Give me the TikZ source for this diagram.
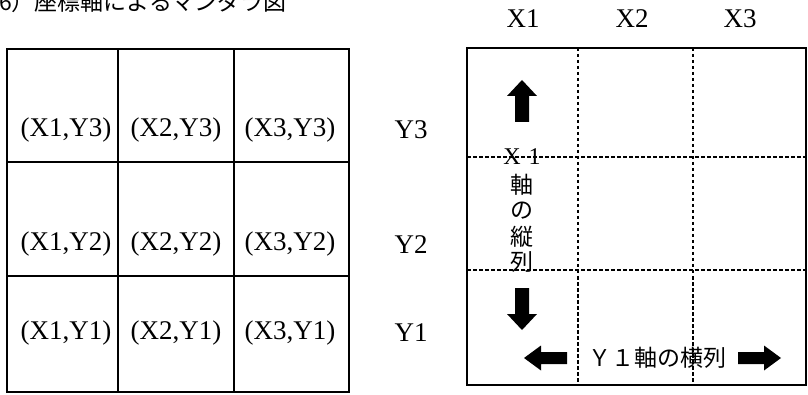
\documentclass[tikz,border=0pt]{standalone}
\usepackage{fontspec}
\setmainfont{Liberation Serif}
\newfontfamily\jp{Noto Sans CJK JP}
\begin{document}
\begin{tikzpicture}[x=1pt,y=-1pt,
  cell/.style={inner sep=0pt,font=\fontsize{27}{30}\selectfont},
  lab/.style={inner sep=0pt,font=\fontsize{27}{30}\selectfont},
  jtxt/.style={inner sep=0pt,font=\jp\fontsize{23}{24}\selectfont},
  grid/.style={line width=2pt},
  dots/.style={line width=2pt,dash pattern=on 3.5pt off 2.5pt},
  varrow/.pic={\fill (0,-7)--(26,-7)--(26,-15)--(42,0)--(26,15)--(26,7)--(0,7)--cycle;},
  harrow/.pic={\fill (0,-6)--(26,-6)--(26,-12.5)--(43,0)--(26,12.5)--(26,6)--(0,6)--cycle;}]
\clip (0,0) rectangle (808,395);
\fill[white] (0,0) rectangle (808,395);
% title (cut at top)
\node[anchor=base west,inner sep=0pt,font=\jp\fontsize{23}{24}\selectfont] (title) at (-1,11) {6）座標軸によるマンダラ図};
% left grid
\draw[grid] (7,49) rectangle (349,392);
\draw[grid] (118,49) -- (118,392);
\draw[grid] (234,49) -- (234,392);
\draw[grid] (7,162) -- (349,162);
\draw[grid] (7,276) -- (349,276);
\node[cell] (c13) at (66,130) {(X1,Y3)};
\node[cell] (c23) at (176,130) {(X2,Y3)};
\node[cell] (c33) at (290,130) {(X3,Y3)};
\node[cell] (c12) at (66,244) {(X1,Y2)};
\node[cell] (c22) at (176,244) {(X2,Y2)};
\node[cell] (c32) at (290,244) {(X3,Y2)};
\node[cell] (c11) at (66,333) {(X1,Y1)};
\node[cell] (c21) at (176,333) {(X2,Y1)};
\node[cell] (c31) at (290,333) {(X3,Y1)};
\node[lab] (y3) at (411,130) {Y3};
\node[lab] (y2) at (411,245) {Y2};
\node[lab] (y1) at (411,333) {Y1};
% right panel
\node[lab] (x1) at (523,19) {X1};
\node[lab] (x2) at (632,19) {X2};
\node[lab] (x3) at (740,19) {X3};
\draw[dots] (578,48) -- (578,385);
\draw[dots] (693,48) -- (693,385);
\draw[dots] (467,157) -- (806,157);
\draw[dots] (467,270) -- (806,270);
\draw[grid] (467,48) rectangle (806,385);
\pic[rotate=90] at (522,122) {varrow};
\pic[rotate=-90] at (522,288) {varrow};
\pic[rotate=180] at (567,358) {harrow};
\pic at (738,358) {harrow};
\node[inner sep=0pt,font=\fontsize{24}{26}\selectfont] (xv) at (522,157) {X\,\,1};
\node[jtxt] (v1) at (522,185) {軸};
\node[jtxt] (v2) at (522,211) {の};
\node[jtxt] (v3) at (522,237) {縦};
\node[jtxt] (v4) at (522,262) {列};
\node[inner sep=0pt,font=\jp\fontsize{23}{24}\selectfont] (yh) at (657,358) {Ｙ１軸の横列};
\end{tikzpicture}
\end{document}
